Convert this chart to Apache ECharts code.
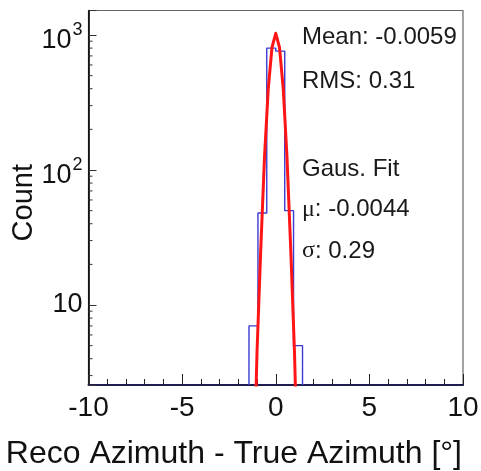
<!DOCTYPE html>
<html><head><meta charset="utf-8">
<script src="https://cdn.jsdelivr.net/npm/echarts@6/dist/echarts.min.js"></script>
<style>html,body{margin:0;padding:0;background:#fff}#c{width:481px;height:471px}</style>
</head><body><div id="c"></div>
<script>
// ---- data ----
const binEdges = [-1.43, -0.95, -0.48, 0, 0.48, 0.95, 1.43];
const binCounts = [7, 48, 800, 760, 50, 5];
const fitX = [-1.2, -1.0, -0.8, -0.6, -0.4, -0.2, 0, 0.2, 0.4, 0.6, 0.8, 1.0, 1.2];
const fitY = [0.4, 4.5, 26, 125, 400, 810, 1030, 810, 400, 125, 26, 4.5, 0.4];
const yMinorTicks = [3,4,5,6,7,8,9,20,30,40,50,60,70,80,90,200,300,400,500,600,700,800,900];
const statsLines = ['Mean: -0.0059', 'RMS: 0.31', 'Gaus. Fit', '{g|μ}: -0.0044', '{g|σ}: 0.29'];
const xTitle = 'Reco Azimuth - True Azimuth [°]';
const yTitle = 'Count';

// ---- layout ----
const Y_MIN = 2.555, Y_MAX = 1519;
const FONT = 'Liberation Sans, Arial, Helvetica, sans-serif';
const statsYPos = [37.5, 81, 169.5, 209.5, 251];

const histPts = [[binEdges[0], Y_MIN]];
for (let i = 0; i < binCounts.length; i++) {
  histPts.push([binEdges[i], binCounts[i]]);
  histPts.push([binEdges[i + 1], binCounts[i]]);
}
histPts.push([binEdges[binEdges.length - 1], Y_MIN]);
const fitPts = fitX.map((x, i) => [x, fitY[i]]);

const chart = echarts.init(document.getElementById('c'), null, {renderer: 'canvas'});
chart.setOption({
  animation: false,
  backgroundColor: '#fff',
  textStyle: {fontFamily: FONT},
  grid: {left: 88.5, right: 18, top: 10.5, bottom: 86, containLabel: false, outerBoundsMode: 'none',
         show: true, borderColor: '#666', borderWidth: 1.2, backgroundColor: 'transparent'},
  xAxis: {
    type: 'value', min: -10, max: 10, interval: 5, position: 'bottom',
    axisLine: {show: true, onZero: false, lineStyle: {color: '#1d1d50', width: 2}},
    axisTick: {show: true, inside: true, length: 11, lineStyle: {color: '#222', width: 1}},
    minorTick: {show: true, splitNumber: 5, length: 6, lineStyle: {color: '#222', width: 1}},
    splitLine: {show: false},
    axisLabel: {fontSize: 28, color: '#111', margin: 9, fontFamily: FONT},
    name: xTitle, nameLocation: 'end', nameGap: -1, nameMoveOverlap: false,
    nameTextStyle: {fontSize: 32, color: '#111', align: 'right', verticalAlign: 'top', padding: [53, 0, 0, 0], fontFamily: FONT}
  },
  yAxis: {
    type: 'log', logBase: 10, min: Y_MIN, max: Y_MAX, position: 'left',
    axisLine: {show: true, onZero: false, lineStyle: {color: '#000', width: 1.6}},
    axisTick: {show: true, inside: true, length: 8, lineStyle: {color: '#333', width: 1}},
    splitLine: {show: false},
    axisLabel: {
      margin: 6, color: '#111', fontFamily: FONT,
      formatter: function (v) {
        const l = Math.log10(v), e = Math.round(l);
        if (Math.abs(l - e) > 1e-6) return '';
        if (e === 1) return '{p|10}';
        return '{b|10}{s|' + e + '}';
      },
      rich: {
        p: {fontSize: 27, color: '#111', fontFamily: FONT},
        b: {fontSize: 27, color: '#111', fontFamily: FONT, padding: [12, 0, 0, 0], verticalAlign: 'bottom'},
        s: {fontSize: 18, color: '#111', fontFamily: FONT, padding: [6, 0, 0, 1], verticalAlign: 'top'}
      }
    },
    name: yTitle, nameLocation: 'middle', nameGap: 50, nameMoveOverlap: false,
    nameTextStyle: {fontSize: 29, color: '#111', fontFamily: FONT, padding: [0, 10, 0, 0]}
  },
  series: [
    {type: 'line', data: histPts, symbol: 'none', clip: true, z: 3,
     lineStyle: {color: '#3b3bd2', width: 1.4}},
    {type: 'line', data: fitPts, symbol: 'none', clip: true, z: 4, smooth: false,
     lineStyle: {color: '#ff1515', width: 3, join: 'round', cap: 'round'}},
    {type: 'custom', data: yMinorTicks.map(v => [-10, v]), silent: true, clip: false, z: 5,
     renderItem: function (params, api) {
       const p = api.coord([api.value(0), api.value(1)]);
       return {type: 'line', shape: {x1: p[0], y1: p[1], x2: p[0] + 4, y2: p[1]},
               style: {stroke: '#333', lineWidth: 1}};
     }}
  ],
  graphic: statsLines.map((t, i) => ({
    type: 'text', x: 302, y: statsYPos[i], z: 10,
    style: {text: t, fontSize: 24, fontFamily: FONT, fill: '#1a1a1a', align: 'left', verticalAlign: 'middle',
            rich: {g: {fontSize: 24, fontFamily: 'Liberation Serif, serif', fill: '#1a1a1a'}}}
  }))
});
</script></body></html>
